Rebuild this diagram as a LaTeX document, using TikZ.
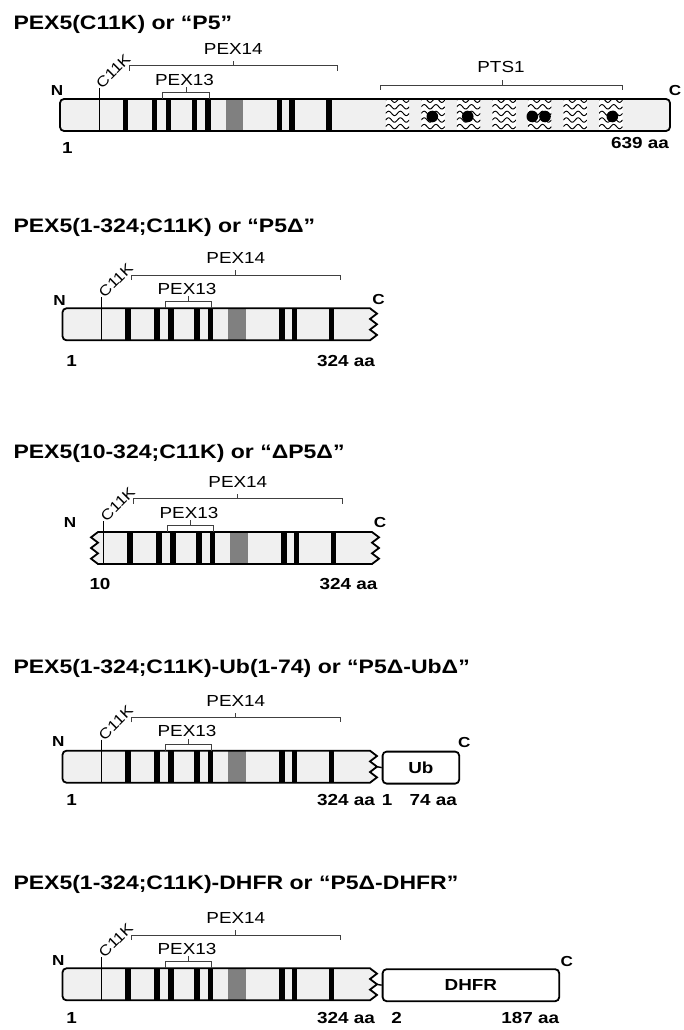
\documentclass[tikz,border=0pt]{standalone}
\usepackage{fontspec}
\setmainfont{Liberation Sans}[FakeStretch=1.18]
\tikzset{
  bar/.style={line width=1.8pt, line join=miter},
  barfill/.style={fill=black!6},
  band/.style={fill=black},
  grayband/.style={fill=black!50},
  brace/.style={draw=black!75, line width=0.9pt},
  site/.style={line width=1.1pt},
  wave/.style={line width=0.95pt},
  lbl/.style={inner sep=0pt, font=\fontsize{16}{18}\selectfont},
  sitelbl/.style={inner sep=0pt, font=\fontsize{14.5}{16}\selectfont},
  blbl/.style={inner sep=0pt, font=\fontsize{16}{18}\selectfont\bfseries},
  term/.style={inner sep=0pt, font=\fontsize{14.5}{16}\selectfont\bfseries},
  ttl/.style={inner sep=0pt, anchor=base west, font=\fontsize{19.5}{22}\selectfont\bfseries},
  tagbox/.style={draw, line width=1.8pt, rounded corners=4pt, fill=white,
    inner sep=0pt, anchor=north west, minimum height=32pt, blbl},
}
% fill the bar, draw its contents, then its outline on top
\newcommand\drawbar[2]{\fill[barfill] #1; #2 \draw[bar] #1;}
% PEX14/PEX13-binding region: black and grey bands
\newcommand\pexbands{%
  \foreach \bx in {122.7,151.7,165.7,191.7,205,276.7,289,326}
    {\fill[band] (\bx,0) rectangle ++(5.7,32);}
  \fill[grayband] (225.7,0) rectangle (243.3,32);}
% C11K site and PEX14 / PEX13 brackets
\newcommand\pexmarks[1]{%
  \coordinate (#1k) at (99.3,-11);
  \draw[site] (#1k) -- (99.3,32);
  \node[sitelbl, rotate=45, anchor=base west] (#1kt) at (102,-9.5) {C11K};
  \draw[brace] (129.3,-28.3) -- (129.3,-33.3) -- (337.7,-33.3) -- (337.7,-28.3)
               (233.3,-33.3) -- (233.3,-38);
  \node[lbl] (#1p14) at (233.3,-50) {PEX14};
  \draw[brace] (162.7,0) -- (162.7,-6.7) -- (209.3,-6.7) -- (209.3,0)
               (186,-6.7) -- (186,-12);
  \node[lbl] (#1p13) at (184.5,-19.5) {PEX13};}
\begin{document}
\begin{tikzpicture}[x=1pt,y=-1pt]
\useasboundingbox (0,0) rectangle (684,1030);

% ---------------- full length PEX5 ----------------
\node[ttl] (t1) at (13.3,29.3) {PEX5(C11K) or “P5”};
\begin{scope}[shift={(0,99)}]
\drawbar{(64,0) -- (666,0) .. controls (668.2,0) and (670,1.8) .. (670,4) -- (670,28)
  .. controls (670,30.2) and (668.2,32) .. (666,32) -- (64,32)
  .. controls (61.8,32) and (60,30.2) .. (60,28) -- (60,4)
  .. controls (60,1.8) and (61.8,0) .. (64,0) -- cycle}{%
  \pexbands
  % TPR motifs
  \foreach \i in {0,...,6} {
    \pgfmathsetmacro\bx{385.7+35.55*\i}
    \begin{scope}
      \clip (\bx,0) rectangle ++(23.5,32);
      \fill[white] (\bx,0) rectangle ++(23.5,32);
      \foreach \ry in {1.2,7.8,14.4,21,27.6}
        \draw[wave] plot[domain=0:23.5, samples=33, smooth]
          ({\bx+\x},{\ry-2.2*sin(\x*360/11.75)});
    \end{scope}
  }
  \foreach \dx in {432.3,467.7,532.3,545,612.3}
    \fill (\dx,17.5) circle[radius=5.8pt];
}
\pexmarks{a}
\draw[brace] (380.7,-9) -- (380.7,-14) -- (622.7,-14) -- (622.7,-9)
             (502.3,-14) -- (502.3,-19);
\node[lbl] (apts) at (501,-32.3) {PTS1};
\node[term] (an) at (57,-8) {N};
\node[term] (ac) at (675,-8) {C};
\node[blbl] (as) at (67.3,48.5) {1};
\node[blbl, anchor=east] (ae) at (669,44.5) {639 aa};
\end{scope}

% ---------------- PEX5(1-324) ----------------
\node[ttl] (t2) at (13.3,232) {PEX5(1-324;C11K) or “P5Δ”};
\begin{scope}[shift={(2.5,308.3)}]
\drawbar{(64,0) -- (367.5,0) -- (374.5,5.33) -- (367.5,10.67) -- (374.5,16)
  -- (367.5,21.33) -- (374.5,26.67) -- (367.5,32) -- (64,32)
  .. controls (61.8,32) and (60,30.2) .. (60,28) -- (60,4)
  .. controls (60,1.8) and (61.8,0) .. (64,0) -- cycle}{\pexbands}
\pexmarks{b}
\node[term] (bn) at (57,-8) {N};
\node[term] (bc) at (376,-9) {C};
\node[blbl] (bs) at (69.2,52.7) {1};
\node[blbl, anchor=east] (be) at (372.5,52.7) {324 aa};
\end{scope}

% ---------------- PEX5(10-324) ----------------
\node[ttl] (t3) at (13.3,458.3) {PEX5(10-324;C11K) or “ΔP5Δ”};
\begin{scope}[shift={(4.5,532)}]
\drawbar{(93.5,0) -- (367.5,0) -- (374.5,5.33) -- (367.5,10.67) -- (374.5,16)
  -- (367.5,21.33) -- (374.5,26.67) -- (367.5,32) -- (93.5,32)
  -- (86.5,26.67) -- (93.5,21.33) -- (86.5,16) -- (93.5,10.67) -- (86.5,5.33)
  -- cycle}{\pexbands}
\pexmarks{c}
\node[term] (cn) at (65.5,-9) {N};
\node[term] (cc) at (375.5,-9) {C};
\node[blbl] (cs) at (95.5,52) {10};
\node[blbl, anchor=east] (ce) at (373,52) {324 aa};
\end{scope}

% ---------------- PEX5(1-324)-Ub ----------------
\node[ttl] (t4) at (13.3,673.3) {PEX5(1-324;C11K)-Ub(1-74) or “P5Δ-UbΔ”};
\begin{scope}[shift={(2.5,750.7)}]
\drawbar{(64,0) -- (367.5,0) -- (374.5,5.33) -- (367.5,10.67) -- (374.5,16)
  -- (367.5,21.33) -- (374.5,26.67) -- (367.5,32) -- (64,32)
  .. controls (61.8,32) and (60,30.2) .. (60,28) -- (60,4)
  .. controls (60,1.8) and (61.8,0) .. (64,0) -- cycle}{\pexbands}
\pexmarks{d}
\node[tagbox, minimum width=76.6pt] (dub) at (379.2,0) {Ub};
\coordinate (dj) at (374.5,16);
\draw[line width=1.4pt] (dj) -- (dub.west);
\node[term] (dn) at (55.8,-9) {N};
\node[term] (dc) at (461.8,-8) {C};
\node[blbl] (ds) at (69.2,49.3) {1};
\node[blbl, anchor=east] (de) at (372.5,49.3) {324 aa};
\node[blbl] (dus) at (384.5,49.3) {1};
\node[blbl, anchor=east] (due) at (454.5,49.3) {74 aa};
\end{scope}

% ---------------- PEX5(1-324)-DHFR ----------------
\node[ttl] (t5) at (13.3,889) {PEX5(1-324;C11K)-DHFR or “P5Δ-DHFR”};
\begin{scope}[shift={(2.5,968.3)}]
\drawbar{(64,0) -- (367.5,0) -- (374.5,5.33) -- (367.5,10.67) -- (374.5,16)
  -- (367.5,21.33) -- (374.5,26.67) -- (367.5,32) -- (64,32)
  .. controls (61.8,32) and (60,30.2) .. (60,28) -- (60,4)
  .. controls (60,1.8) and (61.8,0) .. (64,0) -- cycle}{\pexbands}
\pexmarks{e}
\node[tagbox, minimum width=176.6pt] (edh) at (379.2,0) {DHFR};
\coordinate (ej) at (374.5,16);
\draw[line width=1.4pt] (ej) -- (edh.west);
\node[term] (en) at (55.8,-8) {N};
\node[term] (ec) at (564.2,-7.3) {C};
\node[blbl] (es) at (69.2,50) {1};
\node[blbl, anchor=east] (ee) at (372.5,50) {324 aa};
\node[blbl] (eds) at (394.2,50) {2};
\node[blbl, anchor=east] (ede) at (556.8,50) {187 aa};
\end{scope}
\end{tikzpicture}
\end{document}
